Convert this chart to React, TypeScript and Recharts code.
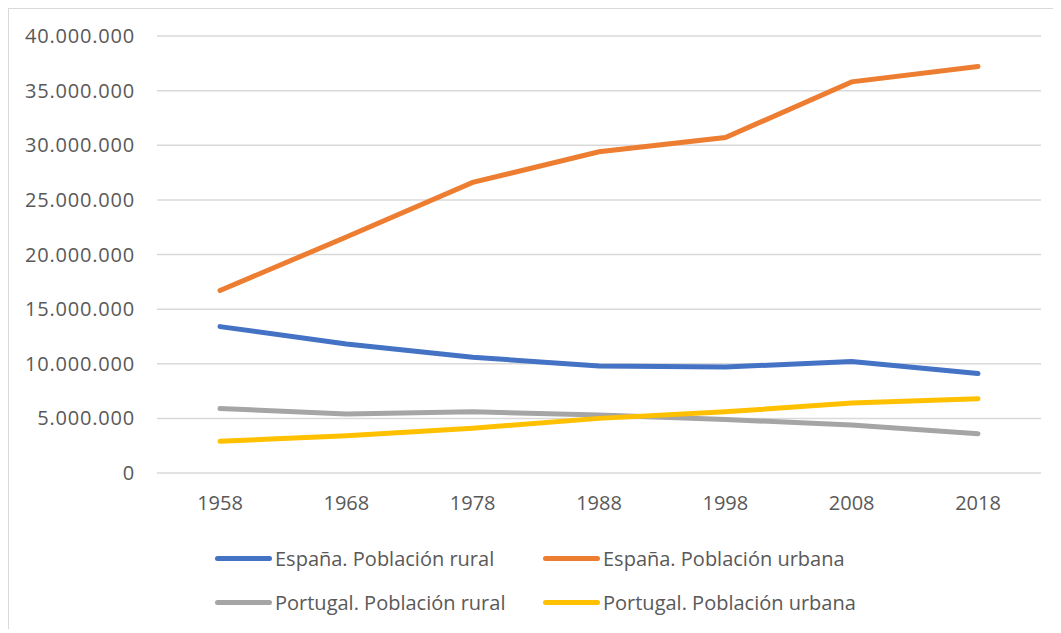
import { LineChart, Line, XAxis, YAxis, CartesianGrid } from 'recharts'

const years = ['1958', '1968', '1978', '1988', '1998', '2008', '2018']
const espanaRural = [13400000, 11800000, 10600000, 9800000, 9700000, 10200000, 9100000]
const espanaUrbana = [16700000, 21600000, 26600000, 29400000, 30700000, 35800000, 37200000]
const portugalRural = [5900000, 5400000, 5600000, 5300000, 4900000, 4400000, 3600000]
const portugalUrbana = [2900000, 3400000, 4100000, 5000000, 5600000, 6400000, 6800000]
const yTicks = [0, 5000000, 10000000, 15000000, 20000000, 25000000, 30000000, 35000000, 40000000]

const data = years.map((year, i) => ({
  year,
  esRural: espanaRural[i],
  esUrbana: espanaUrbana[i],
  ptRural: portugalRural[i],
  ptUrbana: portugalUrbana[i],
}))

const series = [
  { key: 'esRural', name: 'España. Población rural', color: '#4472C4' },
  { key: 'esUrbana', name: 'España. Población urbana', color: '#ED7D31' },
  { key: 'ptRural', name: 'Portugal. Población rural', color: '#A5A5A5' },
  { key: 'ptUrbana', name: 'Portugal. Población urbana', color: '#FFC000' },
]

const font = '"Open Sans", "Noto Sans", sans-serif'

const fmt = (v: number) => String(v).replace(/\B(?=(\d{3})+(?!\d))/g, '.')

// legend drawn as plain html under the chart, 2 x 2 like the excel one
function LegendBox() {
  const rows = [series.slice(0, 2), series.slice(2, 4)]
  return (
    <div style={{ paddingLeft: 206, marginTop: 2 }}>
      {rows.map((row, r) => (
        <div key={r} style={{ display: 'flex', height: 44, alignItems: 'center' }}>
          {row.map((s) => (
            <div key={s.key} style={{ width: 328, display: 'flex', alignItems: 'center' }}>
              <span style={{ display: 'inline-block', width: 57, height: 5, borderRadius: 3, background: s.color, marginRight: 3 }} />
              <span style={{ fontFamily: font, fontSize: 20, color: '#595959', whiteSpace: 'nowrap' }}>{s.name}</span>
            </div>
          ))}
        </div>
      ))}
    </div>
  )
}

export default function App() {
  return (
    <div
      style={{
        width: 1051,
        height: 620,
        borderTop: '1px solid #d9d9d9',
        borderLeft: '1px solid #d9d9d9',
        background: '#fff',
      }}
    >
      <LineChart width={1051} height={525} data={data} margin={{ top: 27, right: 19, bottom: 11, left: 0 }}>
        <CartesianGrid vertical={false} stroke="#d9d9d9" strokeWidth={1.5} />
        <XAxis
          dataKey="year"
          axisLine={false}
          tickLine={false}
          tickMargin={17}
          height={50}
          padding={{ left: 63, right: 63 }}
          tick={{ fill: '#595959', fontSize: 20, fontFamily: font }}
        />
        <YAxis
          width={148}
          domain={[0, 40000000]}
          ticks={yTicks}
          tickFormatter={fmt}
          axisLine={false}
          tickLine={false}
          tickMargin={16}
          tick={{ fill: '#595959', fontSize: 20, fontFamily: font, letterSpacing: 0.8 }}
        />
        {series.map((s) => (
          <Line
            key={s.key}
            type="linear"
            dataKey={s.key}
            name={s.name}
            stroke={s.color}
            strokeWidth={5}
            strokeLinecap="round"
            dot={false}
            activeDot={false}
            isAnimationActive={false}
          />
        ))}
      </LineChart>
      <LegendBox />
    </div>
  )
}
